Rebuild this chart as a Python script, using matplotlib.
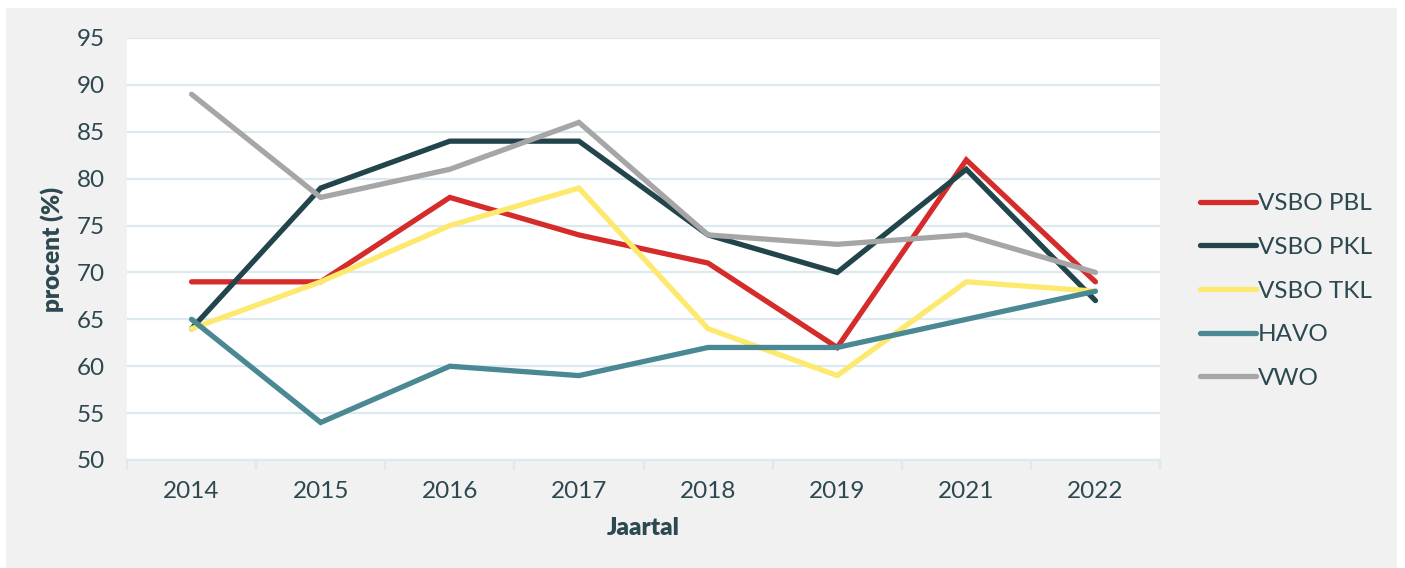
import matplotlib
matplotlib.use('Agg')
import matplotlib.pyplot as plt
from matplotlib.patches import Rectangle

years = ['2014', '2015', '2016', '2017', '2018', '2019', '2021', '2022']
vsbo_pbl = [69, 69, 78, 74, 71, 62, 82, 69]
vsbo_pkl = [64, 79, 84, 84, 74, 70, 81, 67]
vsbo_tkl = [64, 69, 75, 79, 64, 59, 69, 68]
havo = [65, 54, 60, 59, 62, 62, 65, 68]
vwo = [89, 78, 81, 86, 74, 73, 74, 70]

series = [
    ('VSBO PBL', vsbo_pbl, '#d52b2a'),
    ('VSBO PKL', vsbo_pkl, '#22454b'),
    ('VSBO TKL', vsbo_tkl, '#fde96e'),
    ('HAVO', havo, '#4a8893'),
    ('VWO', vwo, '#a6a6a6'),
]

text_col = '#2c4850'
grid_col = '#dce9ee'
fs = 17.5

plt.rcParams['font.family'] = ['Lato', 'DejaVu Sans']

fig = plt.figure(figsize=(14.05, 5.68), dpi=100)
fig.patch.set_facecolor('white')
# light grey panel behind everything, white plot area on top
fig.patches.append(Rectangle((6 / 1405, 0), 1391 / 1405, 560 / 568,
                             transform=fig.transFigure, facecolor='#f1f1f1',
                             edgecolor='none', zorder=-10))

ax = fig.add_axes([127 / 1405, 108 / 568, 1033 / 1405, 422 / 568])
ax.set_facecolor('white')

x = list(range(len(years)))
for name, vals, col in series:
    ax.plot(x, vals, color=col, lw=3.8, label=name,
            solid_capstyle='round', solid_joinstyle='miter')

ax.set_xlim(-0.5, len(years) - 0.5)
ax.set_ylim(50, 95)
ax.set_yticks(range(50, 96, 5))
ax.set_xticks(x)
ax.set_xticklabels(years)
ax.set_xticks([i - 0.5 for i in range(len(years) + 1)], minor=True)

ax.grid(axis='y', color=grid_col, lw=1.6)
ax.set_axisbelow(True)
for s in ['top', 'right', 'left']:
    ax.spines[s].set_visible(False)
ax.spines['bottom'].set_color(grid_col)
ax.spines['bottom'].set_linewidth(1.6)

ax.tick_params(axis='y', length=0, pad=16, labelsize=fs, labelcolor=text_col)
ax.tick_params(axis='x', which='major', length=0, pad=15, labelsize=fs,
               labelcolor=text_col)
ax.tick_params(axis='x', which='minor', length=7, width=1.6, color=grid_col)

ax.set_xlabel('Jaartal', fontsize=fs, fontweight='heavy', color=text_col,
              labelpad=11)
ax.set_ylabel('procent (%)', fontsize=fs, fontweight='heavy', color=text_col,
              labelpad=9)

leg = fig.legend(loc='center left', bbox_to_anchor=(1178 / 1405, 1 - 291 / 568),
                 frameon=False, fontsize=fs, handlelength=2.3,
                 handletextpad=0.1, labelspacing=0.93)
for t in leg.get_texts():
    t.set_color(text_col)

fig.savefig('out.png', dpi=100)
